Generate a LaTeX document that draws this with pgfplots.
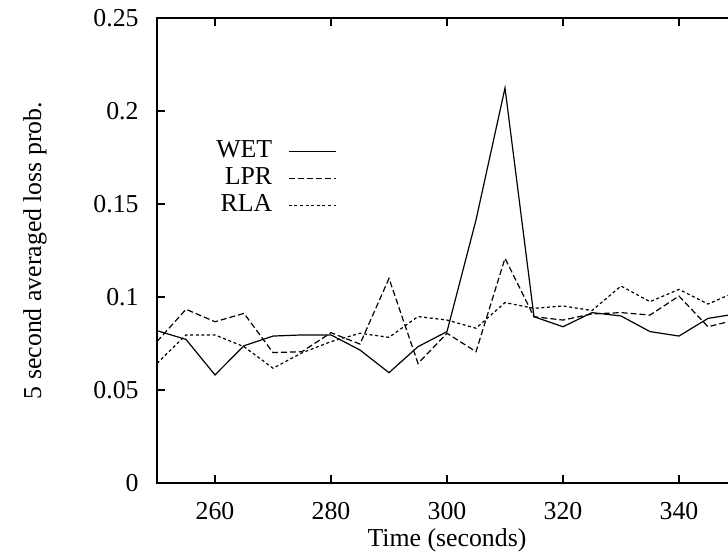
\documentclass[border=0pt]{standalone}
\usepackage{fontspec}
\setmainfont{Liberation Serif}
\usepackage{pgfplots}
\pgfplotsset{compat=1.18}
\begin{document}
\fontsize{12.9}{15}\selectfont
\begin{tikzpicture}
\begin{axis}[
  scale only axis,
  width=290pt, height=232.5pt,
  xmin=250, xmax=350, ymin=0, ymax=0.25,
  xtick={260,280,300,320,340,350},
  xticklabels={260,280,300,320,340,},
  ytick={0,0.05,0.1,0.15,0.2,0.25},
  yticklabels={0,0.05,0.1,0.15,0.2,0.25},
  tick pos=both, tick align=inside, major tick length=4pt,
  minor tick num=0,
  every tick/.style={black, line width=0.6pt},
  axis line style={line width=0.9pt},
  /pgf/number format/assume math mode=true,
  xticklabel style={inner sep=0pt, yshift=-9.5pt},
  yticklabel style={inner sep=0pt, xshift=-9pt},
  xlabel={Time (seconds)},
  ylabel={5 second averaged loss prob.},
  xlabel style={at={(axis description cs:0.5,0)}, anchor=center, yshift=-28.5pt},
  ylabel style={at={(axis description cs:-0.2103,0.5)}, anchor=center},
  legend plot pos=right,
  legend cell align=right,
  legend image code/.code={\draw[#1] (0cm,0cm) -- (0.83cm,0cm);},
  legend style={draw=none, fill=none, inner sep=0pt, column sep=8pt,
    nodes={inner sep=0pt, text height=9.5pt, text depth=4pt},
    at={(0.3103,0.7426)}, anchor=north east},
]
\addplot[black, line width=0.6pt] coordinates {
(250,0.0819) (255,0.0772) (260,0.0581) (265,0.0738) (270,0.0790) (275,0.0796)
(280,0.0796) (285,0.0715) (290,0.0593) (295,0.0733) (300,0.0814) (305,0.1414)
(310,0.2124) (315,0.0894) (320,0.0840) (325,0.0916) (330,0.0898) (335,0.0814)
(340,0.0790) (345,0.0885) (350,0.0910)};
\addlegendentry{WET}
\addplot[black, line width=0.6pt, dash pattern=on 3pt off 1.5pt] coordinates {
(250,0.0760) (255,0.0934) (260,0.0867) (265,0.0912) (270,0.0701) (275,0.0706)
(280,0.0808) (285,0.0747) (290,0.1100) (295,0.0643) (300,0.0805) (305,0.0706)
(310,0.1208) (315,0.0894) (320,0.0876) (325,0.0909) (330,0.0916) (335,0.0903)
(340,0.1005) (345,0.0840) (350,0.0879)};
\addlegendentry{LPR}
\addplot[black, line width=0.6pt, dash pattern=on 1.5pt off 1.3pt] coordinates {
(250,0.0643) (255,0.0796) (260,0.0796) (265,0.0733) (270,0.0617) (275,0.0700)
(280,0.0760) (285,0.0805) (290,0.0783) (295,0.0895) (300,0.0876) (305,0.0832)
(310,0.0970) (315,0.0939) (320,0.0952) (325,0.0927) (330,0.1059) (335,0.0975)
(340,0.1041) (345,0.0962) (350,0.1030)};
\addlegendentry{RLA}
\end{axis}
\pgfresetboundingbox
\useasboundingbox ([shift={(-78.5pt,-34.5pt)}]current axis.south west) rectangle ([shift={(-4.5pt,9pt)}]current axis.north east);
\end{tikzpicture}
\end{document}
